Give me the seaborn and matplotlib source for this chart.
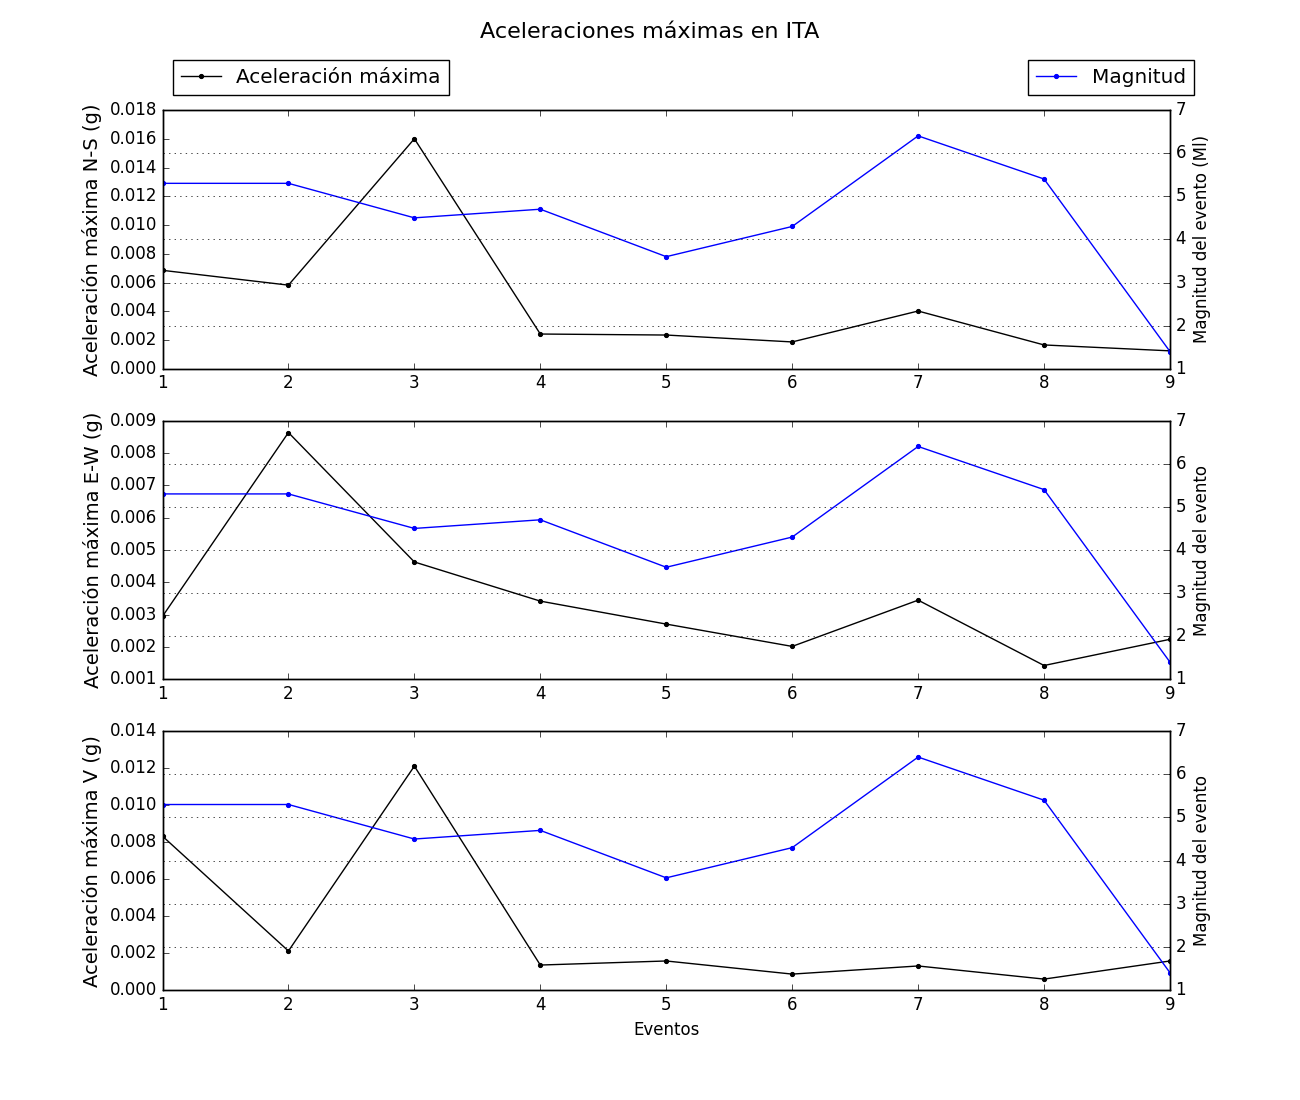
import numpy as np
import pandas as pd
import matplotlib
matplotlib.use("Agg")
import matplotlib.pyplot as plt
import seaborn as sns

plt.style.use('classic')

# Datos
eventos = [1, 2, 3, 4, 5, 6, 7, 8, 9]
magnitud = [5.3, 5.3, 4.5, 4.7, 3.6, 4.3, 6.4, 5.4, 1.4]
acel_ns = [0.00685, 0.00582, 0.0160, 0.00242, 0.00235, 0.00187, 0.00402, 0.00166, 0.00125]
acel_ew = [0.00295, 0.00863, 0.00463, 0.00342, 0.00271, 0.00202, 0.00345, 0.00143, 0.00224]
acel_v = [0.00832, 0.00211, 0.01211, 0.00135, 0.00157, 0.00086, 0.00130, 0.00059, 0.00157]

componentes = [
    (acel_ns, 'Aceleración máxima N-S (g)', 'Magnitud del evento (Ml)', (0, 0.018)),
    (acel_ew, 'Aceleración máxima E-W (g)', 'Magnitud del evento', (0.001, 0.009)),
    (acel_v, 'Aceleración máxima V (g)', 'Magnitud del evento', (0, 0.014)),
]

fig = plt.figure(figsize=(13, 11), dpi=100, facecolor='white')
fig.suptitle('Aceleraciones máximas en ITA', fontsize=16)

for i, (acel, ylab, ylab2, ylim) in enumerate(componentes):
    ax = fig.add_subplot(3, 1, i + 1)
    sns.lineplot(x=eventos, y=acel, ax=ax, color='k', marker='.', markersize=6,
                 markeredgecolor='k', linewidth=1, label='Aceleración máxima', legend=False)
    ax.set_xlim(1, 9)
    ax.set_ylim(*ylim)
    ax.set_ylabel(ylab, fontsize=14)

    ax2 = ax.twinx()
    sns.lineplot(x=eventos, y=magnitud, ax=ax2, color='b', marker='.', markersize=6,
                 markeredgecolor='b', linewidth=1, label='Magnitud', legend=False)
    ax2.set_xlim(1, 9)
    ax2.set_ylim(1, 7)
    ax2.set_ylabel(ylab2, fontsize=12)
    ax2.yaxis.grid(True, linestyle=':', color='k', linewidth=0.5)

    if i == 0:
        ax.legend(loc='lower left', bbox_to_anchor=(0, 1.02), numpoints=1,
                  fontsize=14.4, fancybox=False)
        ax2.legend(loc='lower right', bbox_to_anchor=(1.034, 1.02), numpoints=1,
                   fontsize=14.4, fancybox=False)
    if i == 2:
        ax.set_xlabel('Eventos', fontsize=12)

plt.savefig('out.png', dpi=100, facecolor='white')
